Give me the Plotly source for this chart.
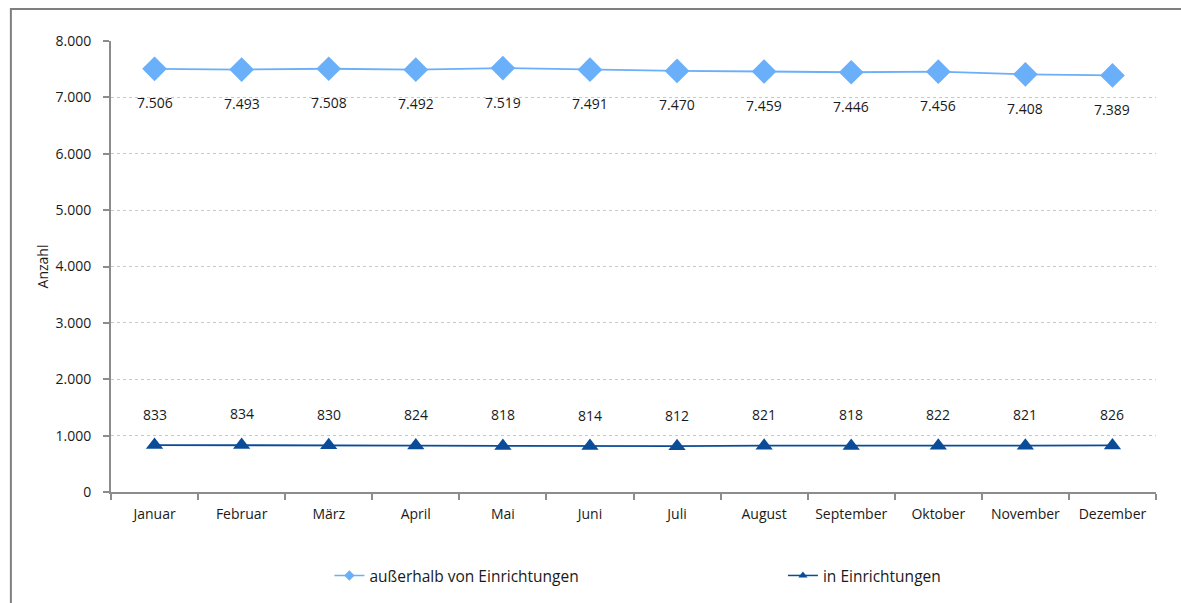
import plotly.graph_objects as go

months = ["Januar", "Februar", "März", "April", "Mai", "Juni", "Juli",
          "August", "September", "Oktober", "November", "Dezember"]
ausserhalb = [7506, 7493, 7508, 7492, 7519, 7491, 7470, 7459, 7446, 7456, 7408, 7389]
in_einrichtungen = [833, 834, 830, 824, 818, 814, 812, 821, 818, 822, 821, 826]
y_ticks = [0, 1000, 2000, 3000, 4000, 5000, 6000, 7000, 8000]
series_names = ["außerhalb von Einrichtungen", "in Einrichtungen"]

LIGHT = "#6aaff9"
DARK = "#0b4c99"
FONT = "Open Sans"
TXT = "#1a1a1a"
AXIS = "#8c8c8c"


def de(v):
    return f"{v:,}".replace(",", ".")


fig = go.Figure()
# data series (legend entries drawn separately with small key markers)
fig.add_trace(go.Scatter(
    x=months, y=ausserhalb, name=series_names[0], showlegend=False,
    mode="lines+markers",
    line=dict(color=LIGHT, width=1.8),
    marker=dict(symbol="diamond", size=19, color=LIGHT),
))
fig.add_trace(go.Scatter(
    x=months, y=in_einrichtungen, name=series_names[1], showlegend=False,
    mode="lines+markers",
    line=dict(color=DARK, width=1.8),
    marker=dict(symbol="triangle-up", size=15, color=DARK),
))
# legend keys
fig.add_trace(go.Scatter(
    x=[None], y=[None], name=series_names[0], legend="legend",
    mode="lines+markers", line=dict(color=LIGHT, width=1.5),
    marker=dict(symbol="diamond", size=8, color=LIGHT),
))
fig.add_trace(go.Scatter(
    x=[None], y=[None], name=series_names[1], legend="legend2",
    mode="lines+markers", line=dict(color=DARK, width=1.5),
    marker=dict(symbol="triangle-up", size=8, color=DARK),
))

annotations = []
for m, v in zip(months, ausserhalb):
    annotations.append(dict(x=m, y=v, text=de(v), showarrow=False,
                            yshift=-34, font=dict(family=FONT, size=14, color=TXT)))
for m, v in zip(months, in_einrichtungen):
    annotations.append(dict(x=m, y=v, text=de(v), showarrow=False,
                            yshift=31, font=dict(family=FONT, size=14, color=TXT)))

legend_style = dict(orientation="h", yanchor="middle", xanchor="left",
                    font=dict(family=FONT, size=15.5, color=TXT),
                    itemwidth=30, bgcolor="rgba(0,0,0,0)")

fig.update_layout(
    width=1181, height=603,
    margin=dict(l=111, r=25, t=41, b=111, autoexpand=False),
    paper_bgcolor="white", plot_bgcolor="white",
    font=dict(family=FONT, size=14, color=TXT),
    separators=",.",
    showlegend=True,
    legend=dict(x=0.209, y=-0.186, **legend_style),
    legend2=dict(x=0.643, y=-0.186, **legend_style),
    annotations=annotations,
    xaxis=dict(
        type="category", range=[-0.5, 11.5],
        showline=True, linecolor=AXIS, linewidth=2,
        ticks="outside", ticklen=6, tickcolor=AXIS, tickwidth=2,
        ticklabelstandoff=8,
        tickson="boundaries", showgrid=False, zeroline=False,
        tickfont=dict(family=FONT, size=14, color=TXT),
    ),
    yaxis=dict(
        range=[0, 8000], tickvals=y_ticks, tickformat=",",
        showline=True, linecolor=AXIS, linewidth=2,
        ticks="outside", ticklen=6, tickcolor=AXIS, tickwidth=2,
        ticklabelstandoff=9,
        showgrid=True, gridcolor="#c8c8c8", griddash="dot", gridwidth=1,
        zeroline=False,
        title=dict(text="Anzahl", font=dict(family=FONT, size=14, color=TXT), standoff=4),
        tickfont=dict(family=FONT, size=14, color=TXT),
    ),
    shapes=[dict(type="rect", xref="paper", yref="paper",
                 x0=-0.0958, x1=1.06, y0=-0.3, y1=1.071,
                 line=dict(color="#7f7f7f", width=2), layer="below")],
)

fig.write_html("out.html")
